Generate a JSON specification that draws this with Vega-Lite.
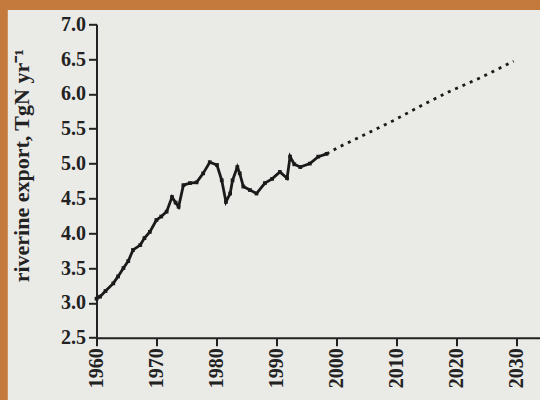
{
  "$schema": "https://vega.github.io/schema/vega-lite/v6.json",
  "autosize": "none",
  "width": 443.5,
  "height": 313.4,
  "padding": {"left": 96.5, "top": 24.3, "right": 0, "bottom": 62.3},
  "background": "#eaeae7",
  "config": {
    "view": {"stroke": null},
    "axis": {
      "labelFont": "Liberation Serif",
      "labelFontWeight": "bold",
      "labelFontSize": 20,
      "labelColor": "#222",
      "labelOverlap": false,
      "labelFlush": false,
      "titleFont": "Liberation Serif",
      "titleFontWeight": "bold",
      "titleFontSize": 22,
      "titleColor": "#222",
      "domainColor": "#222",
      "domainWidth": 2,
      "tickColor": "#222",
      "tickWidth": 2,
      "tickSize": 8,
      "grid": false
    }
  },
  "datasets": {
    "hist": [
      {"year": 1960, "v": 3.06},
      {"year": 1960.6, "v": 3.09},
      {"year": 1961.5, "v": 3.17},
      {"year": 1962.8, "v": 3.28},
      {"year": 1963.6, "v": 3.38},
      {"year": 1964.5, "v": 3.5},
      {"year": 1965.3, "v": 3.6},
      {"year": 1966.1, "v": 3.76},
      {"year": 1967.3, "v": 3.83},
      {"year": 1968.0, "v": 3.93},
      {"year": 1968.9, "v": 4.02},
      {"year": 1970, "v": 4.19},
      {"year": 1970.8, "v": 4.24},
      {"year": 1971.7, "v": 4.31},
      {"year": 1972.6, "v": 4.52},
      {"year": 1973.2, "v": 4.44},
      {"year": 1973.7, "v": 4.38},
      {"year": 1974.5, "v": 4.69},
      {"year": 1975.6, "v": 4.72},
      {"year": 1976.7, "v": 4.73},
      {"year": 1977.8, "v": 4.86},
      {"year": 1978.9, "v": 5.02},
      {"year": 1980.1, "v": 4.98},
      {"year": 1980.9, "v": 4.76},
      {"year": 1981.6, "v": 4.45},
      {"year": 1982.3, "v": 4.57},
      {"year": 1982.7, "v": 4.76},
      {"year": 1983.5, "v": 4.95},
      {"year": 1983.9, "v": 4.86},
      {"year": 1984.5, "v": 4.67},
      {"year": 1985.6, "v": 4.62},
      {"year": 1986.7, "v": 4.57},
      {"year": 1988.1, "v": 4.72},
      {"year": 1989.3, "v": 4.78},
      {"year": 1990.6, "v": 4.88},
      {"year": 1991.8, "v": 4.79},
      {"year": 1992.3, "v": 5.1},
      {"year": 1993.0, "v": 4.99},
      {"year": 1994, "v": 4.95},
      {"year": 1995.6, "v": 5.0},
      {"year": 1997, "v": 5.1},
      {"year": 1998.4, "v": 5.14}
    ],
    "proj": [
      {"year": 1998.4, "v": 5.14},
      {"year": 2000.5, "v": 5.24},
      {"year": 2005.1, "v": 5.43},
      {"year": 2009.6, "v": 5.62},
      {"year": 2014.6, "v": 5.85},
      {"year": 2019, "v": 6.04},
      {"year": 2024, "v": 6.23},
      {"year": 2029.6, "v": 6.47}
    ],
    "border": [
      {"year": 1940, "year2": 2045, "v": 7.205, "v2": 7.8},
      {"year": 1940, "year2": 1945.2, "v": 0.0, "v2": 7.8}
    ]
  },
  "encoding": {
    "x": {
      "field": "year", "type": "quantitative",
      "scale": {"domain": [1960, 2034], "nice": false, "zero": false},
      "axis": {"values": [1960, 1970, 1980, 1990, 2000, 2010, 2020, 2030], "format": "d", "labelAngle": -90, "labelAlign": "right", "labelBaseline": "middle", "labelPadding": 2, "title": null}
    },
    "y": {
      "field": "v", "type": "quantitative",
      "scale": {"domain": [2.5, 7.0], "nice": false, "zero": false},
      "axis": {"values": [2.5, 3, 3.5, 4, 4.5, 5, 5.5, 6, 6.5, 7], "format": ".1f", "labelPadding": 3, "labelOverlap": false, "title": "riverine export, TgN yr⁻¹", "titleX": -63, "titleY": 141}
    }
  },
  "layer": [
    {
      "data": {"name": "border"},
      "mark": {"type": "rect", "fill": "#c47a3c", "clip": false},
      "encoding": {
        "x2": {"field": "year2"},
        "y2": {"field": "v2"}
      }
    },
    {
      "data": {"name": "hist"},
      "mark": {"type": "line", "color": "#1a1a1a", "strokeWidth": 2.8, "point": {"shape": "square", "size": 14, "filled": true, "color": "#1a1a1a"}}
    },
    {
      "data": {"name": "proj"},
      "mark": {"type": "line", "color": "#1a1a1a", "strokeWidth": 2.8, "strokeDash": [3, 5]}
    }
  ]
}
